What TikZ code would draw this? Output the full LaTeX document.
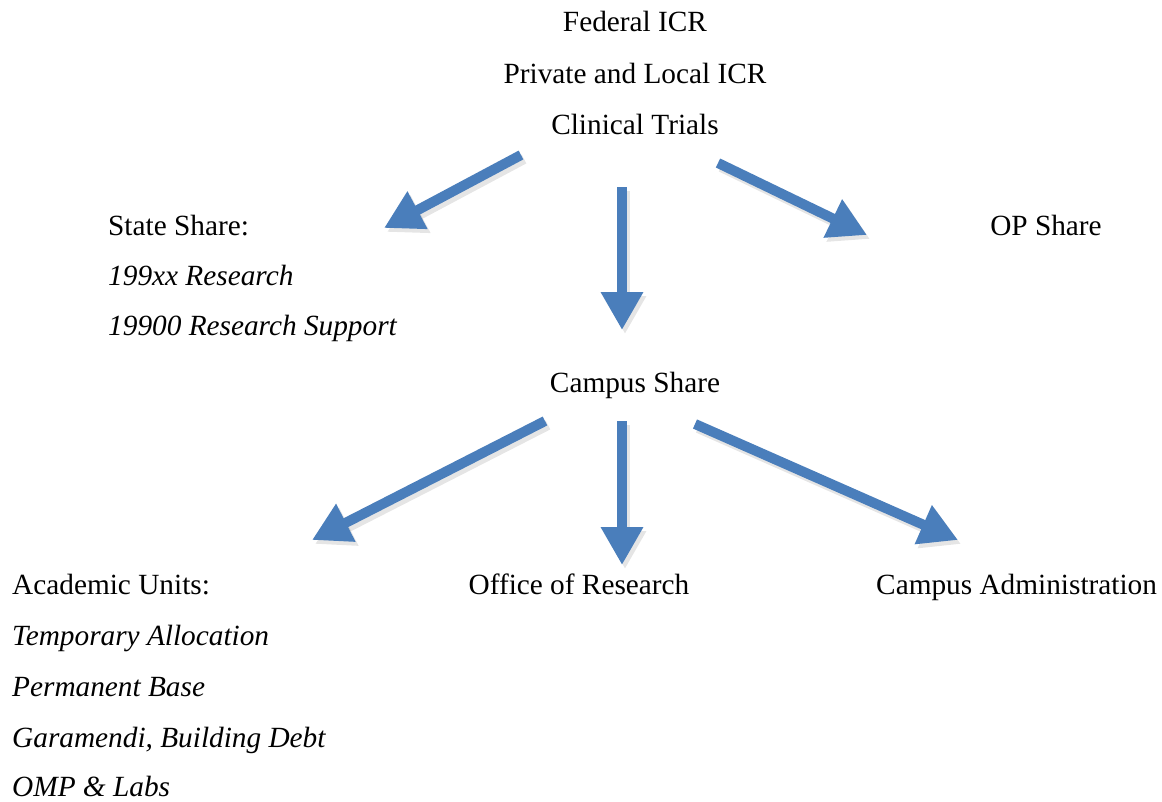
\documentclass[tikz,border=0pt]{standalone}
\usepackage{fontspec}
\setmainfont{Liberation Serif}
\usetikzlibrary{arrows.meta}
\definecolor{ArrowBlue}{HTML}{4A7EBB}

\tikzset{
	txt/.style={inner sep=0pt, anchor=base west, font=\fontsize{29.3}{35}\selectfont},
	ctxt/.style={txt, anchor=base},
	itxt/.style={txt, font=\fontsize{29.3}{35}\selectfont\itshape},
	flow/.style={line width=10pt, color=ArrowBlue, -{Triangle[width=40pt,length=38pt]}},
	flowshade/.style={flow, color=black, opacity=0.1, transform canvas={shift={(3pt,-4pt)}}}
}

\begin{document}
\begin{tikzpicture}[x=1pt,y=-1pt]
	\useasboundingbox (0,0) rectangle (1162,801);

	\node[ctxt] (federal) at (635,31) {Federal ICR};
	\node[ctxt] (private) at (635,83) {Private and Local ICR};
	\node[ctxt] (clinical) at (635,134) {Clinical Trials};

	\node[txt] (state) at (108,235) {State Share:};
	\node[itxt] (research) at (108,285) {199xx Research};
	\node[itxt] (support) at (108,335) {19900 Research Support};

	\node[ctxt] (opshare) at (1046,235) {OP Share};

	\node[ctxt] (campus) at (635,392) {Campus Share};

	\node[txt] (academic) at (12,594) {Academic Units:};
	\node[itxt] (temporary) at (12,645) {Temporary Allocation};
	\node[itxt] (permanent) at (12,696) {Permanent Base};
	\node[itxt] (garamendi) at (12,747) {Garamendi, Building Debt};
	\node[itxt] (omp) at (12,796) {OMP \& Labs};

	\node[ctxt] (office) at (579,594) {Office of Research};
	\node[txt] (admin) at (876,594) {Campus Administration};

	\coordinate (clin-l) at (521,155);
	\coordinate (clin-m) at (622,187);
	\coordinate (clin-r) at (718,163);
	\coordinate (state-in) at (384,228);
	\coordinate (campus-in) at (622,330);
	\coordinate (op-in) at (867,235);

	\coordinate (campus-l) at (545,421);
	\coordinate (campus-m) at (622,421);
	\coordinate (campus-r) at (695,424);
	\coordinate (academic-in) at (312,540);
	\coordinate (office-in) at (622,565);
	\coordinate (admin-in) at (958,540);

	\foreach \from/\to in {clin-l/state-in, clin-m/campus-in, clin-r/op-in,
		campus-l/academic-in, campus-m/office-in, campus-r/admin-in}{
		\draw[flowshade] (\from) -- (\to);
		\draw[flow] (\from) -- (\to);
	}
\end{tikzpicture}
\end{document}
